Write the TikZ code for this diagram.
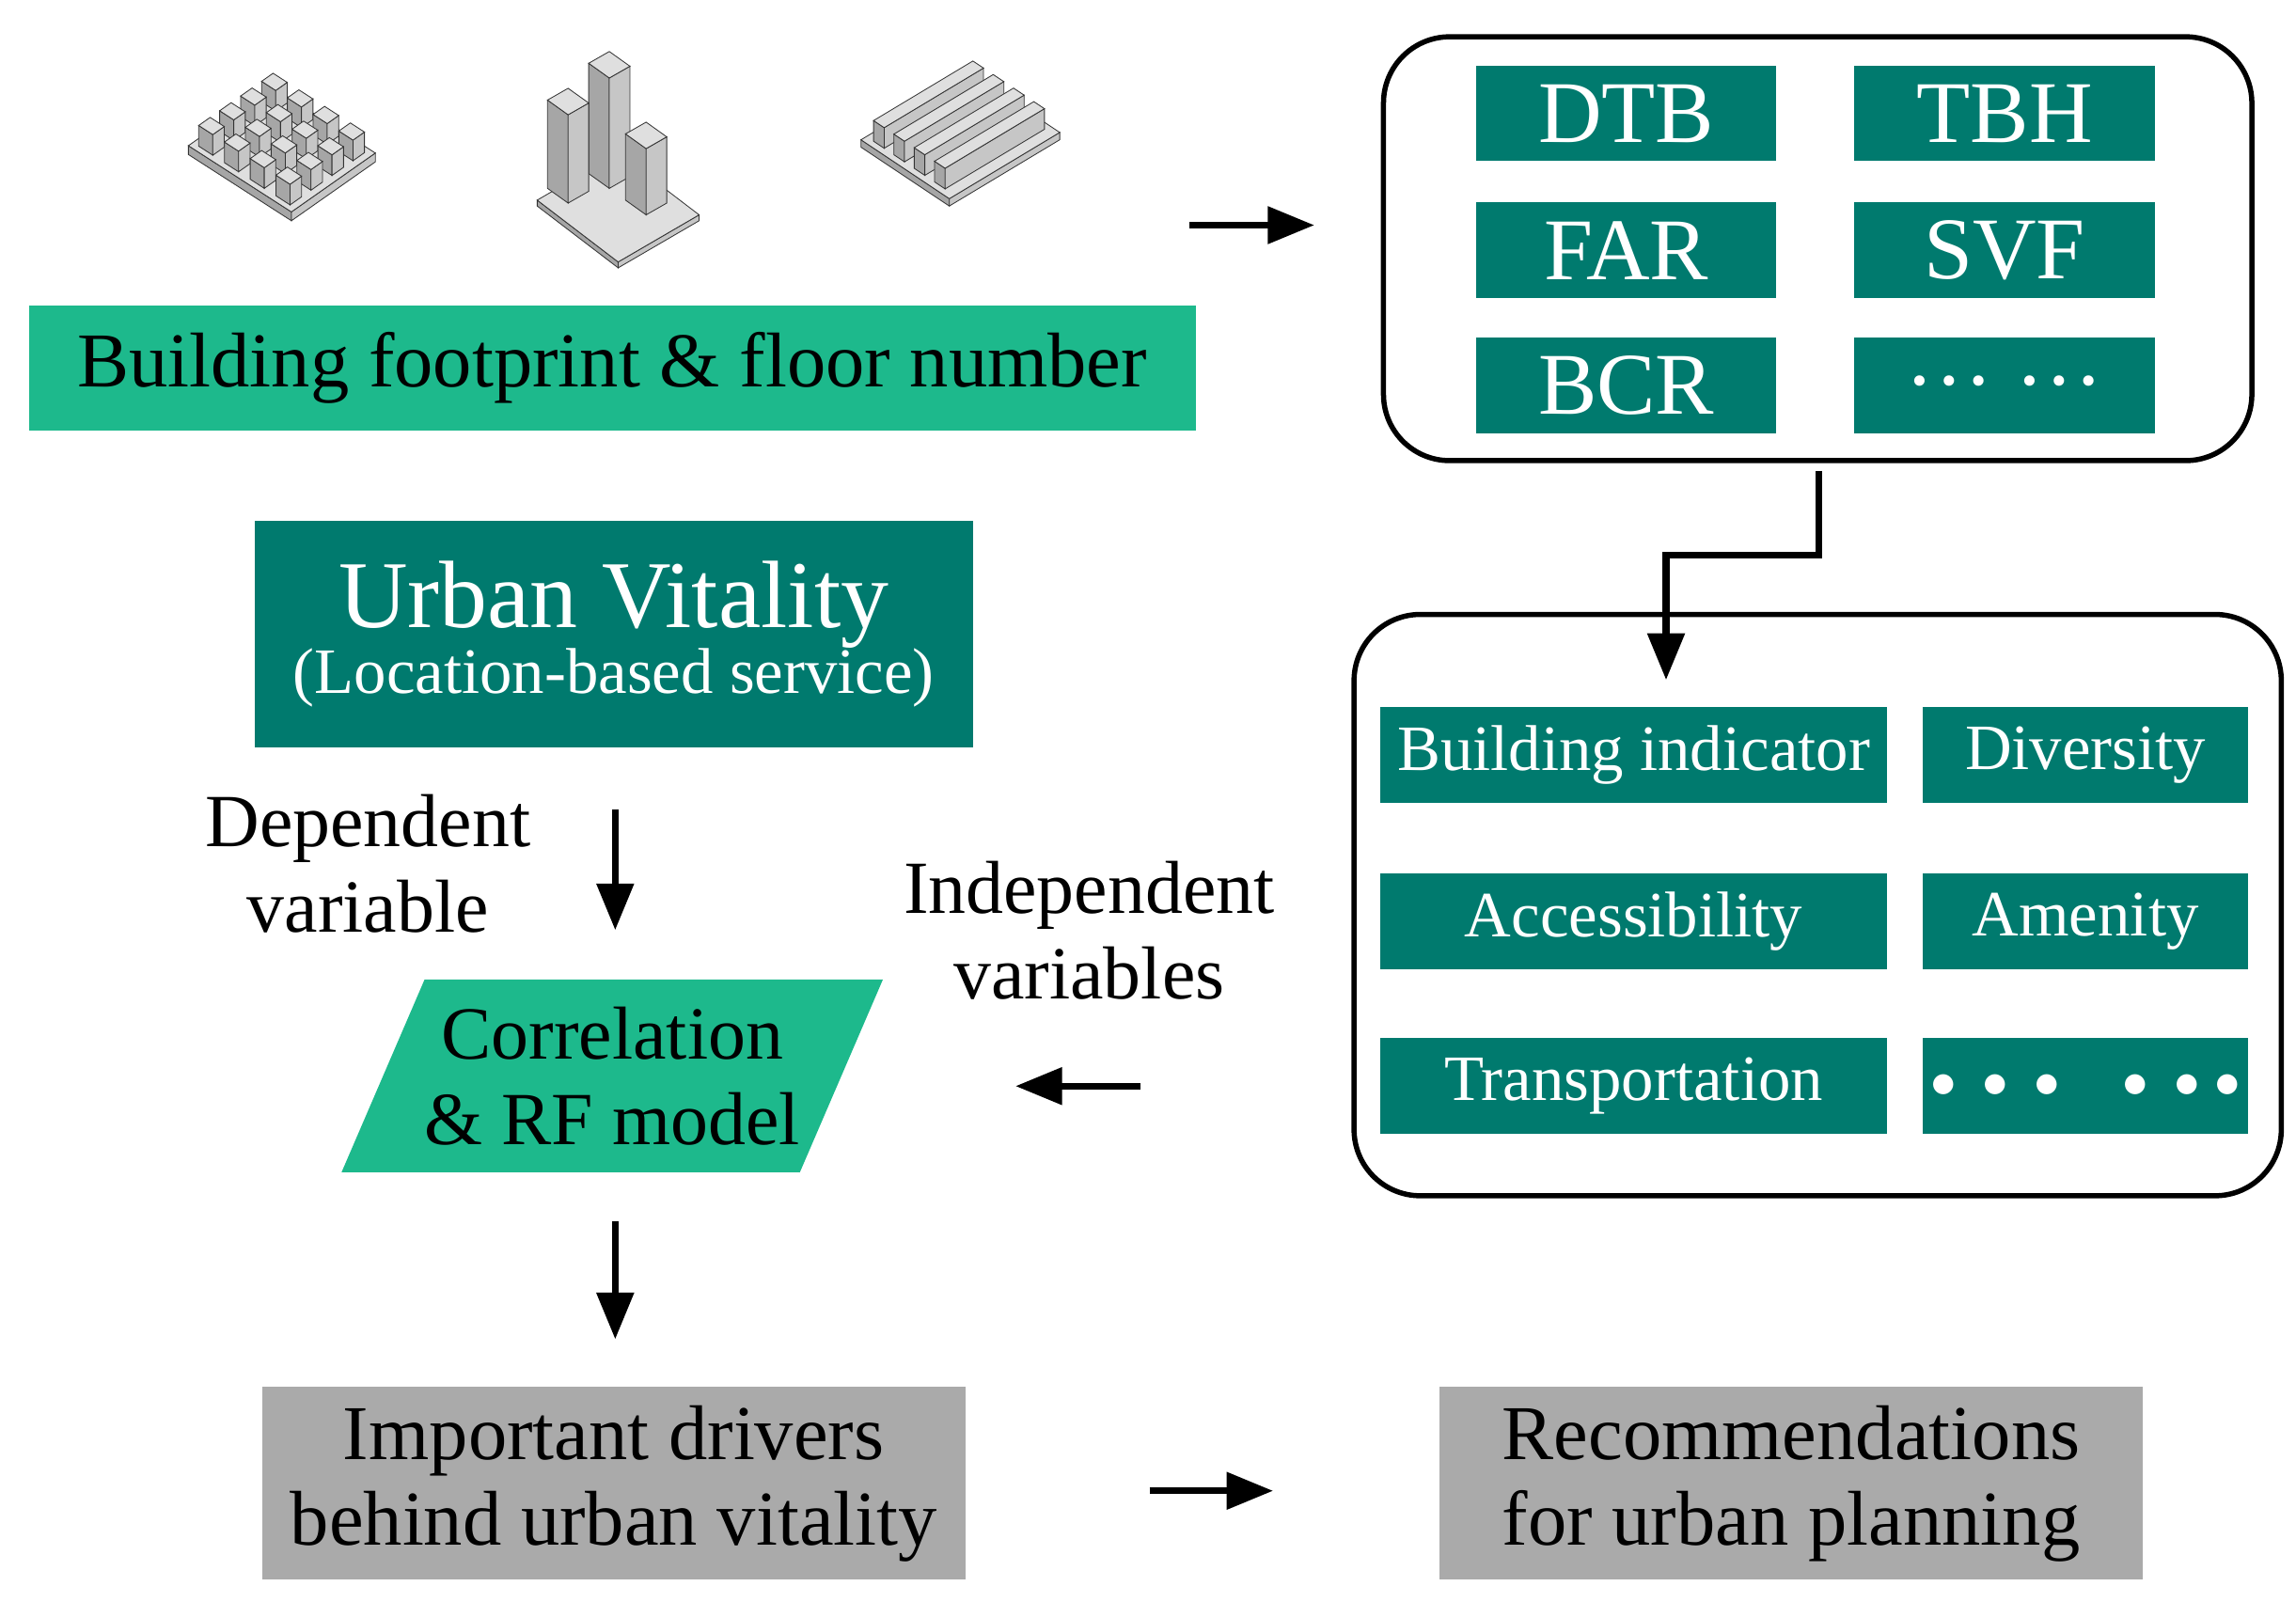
\documentclass[tikz,border=0pt]{standalone}
\usepackage{fontspec}
\setmainfont{Liberation Serif}
\usetikzlibrary{shapes.geometric,arrows.meta}
\definecolor{teal1}{RGB}{0,122,110}
\definecolor{mint}{RGB}{29,185,140}
\definecolor{greyb}{RGB}{170,170,170}
\newcommand\isobox[7]{%
 \filldraw[fill=gray!70,draw=gray!40!black,line width=0.15pt] ({#1},{#2}) -- ++({#5},{#6}) -- ++(0,{-(#7)}) -- ++({-(#5)},{-(#6)}) -- cycle;
 \filldraw[fill=gray!45,draw=gray!40!black,line width=0.15pt] ({(#1)+(#5)},{(#2)+(#6)}) -- ++({#3},{#4}) -- ++(0,{-(#7)}) -- ++({-(#3)},{-(#4)}) -- cycle;
 \filldraw[fill=gray!25,draw=gray!40!black,line width=0.15pt] ({#1},{(#2)-(#7)}) -- ++({#5},{#6}) -- ++({#3},{#4}) -- ++({-(#5)},{-(#6)}) -- cycle;
}
\tikzset{
 dk/.style={fill=teal1,text=white,inner sep=0pt,minimum height=65\px},
 big/.style={draw=black,line width=1pt,rounded corners=45\px},
 arr/.style={line width=1.3pt,-{Triangle[length=9pt,width=7pt]}},
 gb/.style={fill=greyb,text=black,inner sep=0pt,minimum width=478\px,minimum height=131\px,align=center,font=\fontsize{15}{16.5}\selectfont},
 lab/.style={align=center,font=\fontsize{14.5}{16.5}\selectfont},
}
\def\px{*0.01cm}
\begin{document}
\begin{tikzpicture}[x=0.01cm,y=-0.01cm]
\useasboundingbox (0,0) rectangle (1560,1088);
% icons
\isobox{128}{105}{57}{-40}{70}{45}{6}
\foreach \j in {0,1,2,3}{\foreach \i in {3,2,1,0}{%
 \isobox{128+(\i+0.22)*14.25+(\j+0.22)*17.5}{99-(\i+0.22)*10+(\j+0.22)*11.25}{7.8}{-5.5}{9.6}{6.2}{14}}}
\isobox{365}{140}{55}{-32}{55}{42}{4}
\isobox{400}{118}{14}{-8}{14}{10}{75}
\isobox{372}{128}{14}{-8}{14}{10}{60}
\isobox{425}{136}{14}{-8}{14}{10}{45}
\isobox{585}{100}{75}{-45}{60}{40}{5}
\foreach \k in {0,1,2,3}{%
 \isobox{585+3.75+(0.08+\k*0.23)*60}{95-2.25+(0.08+\k*0.23)*40}{67.5}{-40.5}{7.2}{4.8}{14}}
% nodes
\node[fill=mint,inner sep=0pt,minimum width=793\px,minimum height=85\px,font=\fontsize{15}{16}\selectfont] (bf) at (416,250) {Building footprint \& floor number};
\node[big,minimum width=590\px,minimum height=288\px] (b1) at (1235,169) {};
\foreach \n/\t/\x/\y in {dtb/DTB/1105/77,tbh/TBH/1362/77,far/FAR/1105/170,svf/SVF/1362/170,bcr/BCR/1105/262,dd/{\raisebox{0.25ex}{\dots\ \dots}}/1362/262}
 \node[dk,minimum width=204\px,font=\fontsize{17}{18}\selectfont] (\n) at (\x,\y) {\t};
\node[big,minimum width=630\px,minimum height=395\px] (b2) at (1235,615) {};
\node[dk,minimum width=344\px,font=\fontsize{12.5}{14}\selectfont] (bi) at (1110,513) {Building indicator};
\node[dk,minimum width=221\px,font=\fontsize{12.5}{14}\selectfont] (div) at (1417,513) {Diversity};
\node[dk,minimum width=344\px,font=\fontsize{12.5}{14}\selectfont] (acc) at (1110,626) {Accessibility};
\node[dk,minimum width=221\px,font=\fontsize{12.5}{14}\selectfont] (am) at (1417,626) {Amenity};
\node[dk,minimum width=344\px,font=\fontsize{12.5}{14}\selectfont] (tr) at (1110,738) {Transportation};
\node[dk,minimum width=221\px,font=\fontsize{10}{12}\selectfont] (d2) at (1417,738) {$\bullet\;\bullet\;\bullet\quad\bullet\;\bullet\;\bullet$};
\node[dk,minimum width=488\px,minimum height=154\px,align=center] (uv) at (417,431) {{\fontsize{18.5}{20}\selectfont Urban Vitality}\\[-1pt]{\fontsize{12.5}{14}\selectfont (Location-based service)}};
\node[lab] (dv) at (250,587) {Dependent\\variable};
\node[lab] (iv) at (740,632) {Independent\\variables};
\node[trapezium,trapezium left angle=59,trapezium right angle=121,trapezium stretches=true,fill=mint,minimum width=361\px,minimum height=131\px,inner sep=0pt,lab] (rf) at (416,731) {Correlation\\\& RF model};
\node[gb] (id) at (417,1008) {Important drivers\\behind urban vitality};
\node[gb] (rec) at (1217,1008) {Recommendations\\for urban planning};
% arrows
\coordinate (a1s) at (808,153); \coordinate (a1e) at (893,153);
\draw[arr] (a1s) -- (a1e);
\coordinate (e1) at (1236,320); \coordinate (e2) at (1132,462);
\draw[arr] (e1) -- (1236,377) -| (e2);
\coordinate (d1) at (418,550); \coordinate (d2c) at (418,632);
\draw[arr] (d1) -- (d2c);
\coordinate (i1) at (775,738); \coordinate (i2) at (690,738);
\draw[arr] (i1) -- (i2);
\coordinate (m1) at (418,830); \coordinate (m2) at (418,910);
\draw[arr] (m1) -- (m2);
\coordinate (r1) at (781,1013); \coordinate (r2) at (865,1013);
\draw[arr] (r1) -- (r2);
\end{tikzpicture}
\end{document}
